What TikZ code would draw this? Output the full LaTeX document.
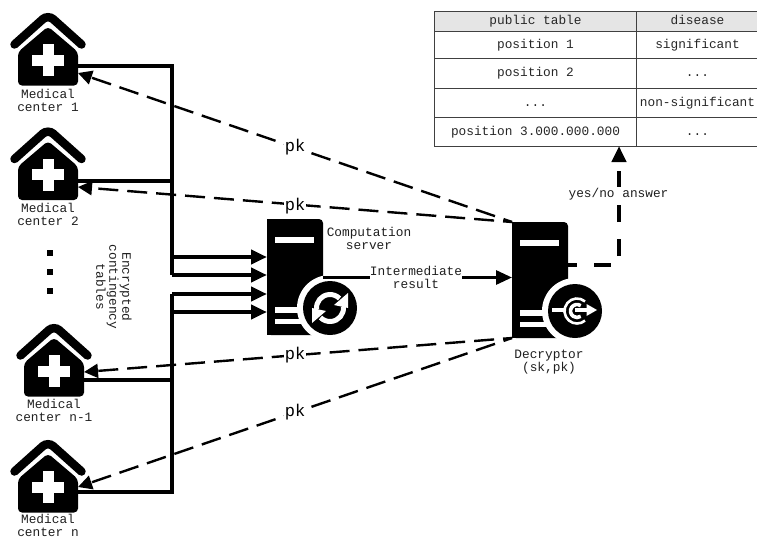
\documentclass[tikz,border=0pt]{standalone}
\usepackage{fontspec}
\setmainfont{Liberation Mono}
\usetikzlibrary{arrows.meta}
\tikzset{
  x=1pt,y=-1pt,
  lbl/.style={font=\fontsize{12.8pt}{13pt}\selectfont,align=center,inner sep=0pt,text=black!88},
  pklbl/.style={font=\fontsize{17pt}{18pt}\selectfont,inner sep=1pt,fill=white},
  tcell/.style={draw=black!75,line width=1pt,anchor=north west,minimum height=#1,inner sep=0pt,text height=9pt,text depth=3pt,font=\fontsize{12.8pt}{13pt}\selectfont,text=black!85},
  wire/.style={line width=4pt},
  inarrow/.style={wire,-{Triangle[length=16pt,width=14pt]}},
  keyline/.style={line width=2.4pt,dash pattern=on 20pt off 9pt,dash phase=11pt,-{Triangle[length=14pt,width=14pt]}},
  answer/.style={line width=4pt,dash pattern=on 17pt off 17pt,dash phase=8pt,-{Triangle[length=16pt,width=14pt]}},
  pics/hospital/.style={code={
    \fill[rounded corners=4pt] (-30,-8) -- (0,-33.5) -- (30,-8) -- (30,25.5) -- (-30,25.5) -- cycle;
    \draw[line width=8.5pt,line cap=round,rounded corners=7pt] (-33.5,-15.5) -- (0,-45.5) -- (33.5,-15.5);
    \fill[white] (-16,-5.5) rectangle (16,5.5);
    \fill[white] (-5.5,-16) rectangle (5.5,16);
    \coordinate (-e) at (30,6);
    \coordinate (-n) at (30,12);
  }},
  pics/serverbase/.style={code={
    \fill[rounded corners=4pt] (0,0) -- (56,0) -- (56,116) -- (0,116) -- cycle;
    \fill (0,0) rectangle (10,10);
    \fill (0,106) rectangle (10,116);
    \fill[white] (8,18) rectangle (47,23.5);
    \fill[white] (8,88) rectangle (45,94);
    \fill[white] (8,100) rectangle (45,105);
    \fill[white] (63,89) circle[radius=33pt];
    \fill (63,89) circle[radius=27pt];
    \coordinate (-tl) at (0,0);
    \coordinate (-bl) at (0,116);
    \coordinate (-r1) at (56,58);
    \coordinate (-r2) at (56,43);
    \coordinate (-c) at (63,89);
  }}
}
\begin{document}
\begin{tikzpicture}
\useasboundingbox (0,0) rectangle (757,538);

% table
\node[tcell=20pt,minimum width=202pt,fill=black!10] (h1) at (434,11) {public table};
\node[tcell=20pt,minimum width=122pt,fill=black!10] (h2) at (636,11) {disease};
\node[tcell=27pt,minimum width=202pt] (a1) at (434,31) {position 1};
\node[tcell=27pt,minimum width=122pt] (b1) at (636,31) {significant};
\node[tcell=30pt,minimum width=202pt] (a2) at (434,58) {position 2};
\node[tcell=30pt,minimum width=122pt] (b2) at (636,58) {...};
\node[tcell=29pt,minimum width=202pt] (a3) at (434,88) {...};
\node[tcell=29pt,minimum width=122pt] (b3) at (636,88) {non-significant};
\node[tcell=29pt,minimum width=202pt] (a4) at (434,117) {position 3.000.000.000};
\node[tcell=29pt,minimum width=122pt] (b4) at (636,117) {...};

% hospitals
\pic (m1) at (48,60) {hospital};
\pic (m2) at (48,174.5) {hospital};
\pic (m3) at (54,371) {hospital};
\pic (m4) at (48,487) {hospital};
\node[lbl] (l1) at (48,100) {Medical\\center 1};
\node[lbl] (l2) at (48,214.5) {Medical\\center 2};
\node[lbl] (l3) at (54,410.5) {Medical\\center n-1};
\node[lbl] (l4) at (48,525) {Medical\\center n};

% ellipsis
\foreach \n/\y in {d1/253,d2/272,d3/291}
  \node[fill=black,minimum size=6.5pt,inner sep=0pt] (\n) at (50,\y) {};

\node[lbl,rotate=-90] (enc) at (114,287) {Encrypted\\contingency\\tables};

% servers
\pic (cs) at (267,219) {serverbase};
\pic (dc) at (512,222) {serverbase};

% refresh icon
\begin{scope}[shift={(cs-c)}]
  \draw[white,line width=5pt] (185:13.5pt) arc[start angle=185,end angle=45,radius=13.5pt];
  \draw[white,line width=5pt] (5:13.5pt) arc[start angle=5,end angle=-135,radius=13.5pt];
  \fill[white] (18,-15) -- (18,0) -- (4,-3) -- cycle;
  \fill[white] (-18,15) -- (-18,0) -- (-4,3) -- cycle;
\end{scope}

% decrypt icon
\begin{scope}[shift={(dc-c)}]
  \begin{scope}[shift={(2,0)}]
    \draw[white,line width=2.6pt] (50:12.5pt) arc[start angle=50,end angle=310,radius=12.5pt];
    \draw[white,line width=3.6pt] (55:6.5pt) arc[start angle=55,end angle=305,radius=6.5pt];
  \end{scope}
  \draw[white,line width=4pt] (-23,-1) -- (-10,-1);
  \draw[white,line width=4pt] (0,-1) -- (13,-1);
  \fill[white] (11.5,-7) -- (22,-1) -- (11.5,5) -- cycle;
\end{scope}

\node[lbl] (cslbl) at (369,238.5) {Computation\\server};
\node[lbl] (dclbl) at (549,362.5) {Decryptor\\(sk,pk)};
\node[lbl] (mid) at (416,277.5) {Intermediate\\result};

% bus
\coordinate (t1) at (172,66);
\coordinate (t2) at (172,181);
\coordinate (t3) at (172,257);
\coordinate (t4) at (172,275);
\coordinate (b1x) at (172,294);
\coordinate (b2x) at (172,312);
\coordinate (b3x) at (172,380);
\coordinate (b4x) at (172,492);
\coordinate (i1) at (267,257);
\coordinate (i2) at (267,275);
\coordinate (i3) at (267,294);
\coordinate (i4) at (267,312);
\coordinate (m2e) at (78,181);
\coordinate (m3e) at (84,380);
\coordinate (m4e) at (78,492);

\draw[wire] (m1-e) -- (t1) -- (t4);
\draw[wire] (m2e) -- (t2);
\draw[inarrow] (t3) -- (i1);
\draw[inarrow] (t4) -- (i2);
\draw[wire] (m4e) -- (b4x) -- (b1x);
\draw[wire] (m3e) -- (b3x);
\draw[inarrow] (b1x) -- (i3);
\draw[inarrow] (b2x) -- (i4);

% intermediate result
\draw[line width=3pt] (cs-r1 |- mid) -- (mid.west);
\draw[line width=3pt,-{Triangle[length=16pt,width=14pt]}] (mid.east) -- (dc-tl |- mid);

% keys
\coordinate (k1) at (78,73);
\coordinate (k2) at (78,187);
\coordinate (k3) at (84,372);
\coordinate (k4) at (78,487);
\draw[keyline] (dc-tl) -- (k1);
\draw[keyline] (dc-tl) -- (k2);
\draw[keyline] (dc-bl) -- (k3);
\draw[keyline] (dc-bl) -- (k4);
\node[pklbl] (p1) at (295,147) {pk};
\node[pklbl] (p2) at (295,206) {pk};
\node[pklbl] (p3) at (295,355) {pk};
\node[pklbl] (p4) at (295,412) {pk};

% answer
\coordinate (ans) at (619,146);
\coordinate (ac) at (619,265);
\draw[answer] (dc-r2) -- (ac) -- (ans);
\node[lbl,fill=white,inner sep=1pt] (yn) at (618.5,194) {yes/no answer};
\end{tikzpicture}
\end{document}
